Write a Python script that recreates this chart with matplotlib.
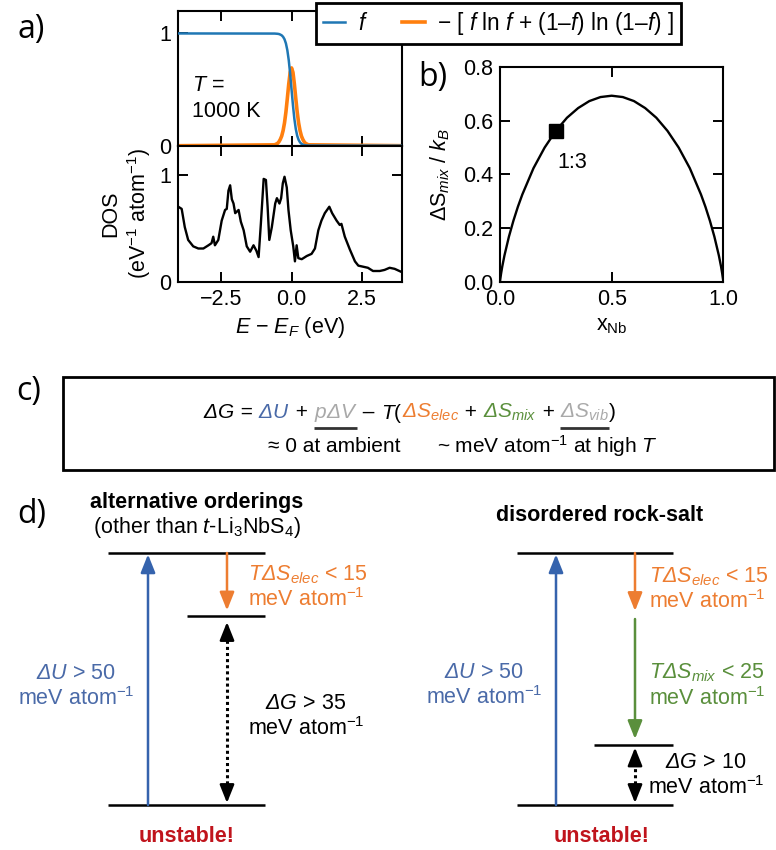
import matplotlib
matplotlib.use("Agg")
import matplotlib.pyplot as plt
import matplotlib.transforms as mtransforms

plt.rcParams["font.family"] = ["Liberation Sans", "DejaVu Sans"]
plt.rcParams["mathtext.fontset"] = "custom"
plt.rcParams["mathtext.rm"] = "Liberation Sans"
plt.rcParams["mathtext.it"] = "Liberation Sans:italic"
# mathtext keeps capital Greek upright in \mathit, so italic Greek goes through \mathsf
plt.rcParams["mathtext.sf"] = "Liberation Sans:italic"
plt.rcParams["mathtext.bf"] = "Liberation Sans:bold"

# ---- data ----
# a) Fermi occupation and electronic entropy at T = 1000 K
fermi_energy = [-4.0, -0.6, -0.5, -0.45, -0.4, -0.35, -0.3, -0.25, -0.2, -0.15, -0.1, -0.05,
                0.0, 0.05, 0.1, 0.15, 0.2, 0.25, 0.3, 0.35, 0.4, 0.45, 0.5, 0.6, 4.0]
fermi_f = [1.0, 0.999, 0.997, 0.995, 0.990, 0.983, 0.970, 0.948, 0.911, 0.851, 0.762, 0.641,
           0.5, 0.359, 0.238, 0.149, 0.089, 0.052, 0.030, 0.017, 0.010, 0.005, 0.003, 0.001, 0.0]
fermi_s = [0.0, 0.008, 0.020, 0.034, 0.056, 0.086, 0.135, 0.204, 0.300, 0.421, 0.549, 0.653,
           0.693, 0.653, 0.549, 0.421, 0.300, 0.204, 0.135, 0.086, 0.056, 0.034, 0.020, 0.008, 0.0]

# a) density of states
dos_energy = [-4.02, -3.90, -3.79, -3.67, -3.49, -3.31, -3.13, -2.95, -2.84, -2.78, -2.72, -2.60,
              -2.48, -2.36, -2.30, -2.24, -2.18, -2.12, -2.06, -2.00, -1.88, -1.80, -1.70, -1.59,
              -1.47, -1.35, -1.25, -1.17, -1.09, -0.99, -0.91, -0.85, -0.79, -0.70, -0.58, -0.52,
              -0.43, -0.37, -0.31, -0.25, -0.17, -0.11, -0.03, 0.06, 0.12, 0.18, 0.24, 0.36,
              0.54, 0.71, 0.83, 0.95, 1.06, 1.18, 1.34, 1.44, 1.60, 1.71, 1.77, 1.89, 2.07,
              2.25, 2.37, 2.54, 2.71, 2.89, 3.13, 3.30, 3.48, 3.66, 3.91]
dos_values = [0.70, 0.68, 0.51, 0.39, 0.33, 0.31, 0.31, 0.34, 0.36, 0.42, 0.34, 0.39,
              0.57, 0.67, 0.68, 0.85, 0.90, 0.77, 0.73, 0.64, 0.67, 0.56, 0.48, 0.33,
              0.28, 0.34, 0.29, 0.23, 0.54, 0.96, 0.95, 0.70, 0.39, 0.51, 0.73, 0.78,
              0.73, 0.78, 0.92, 0.98, 0.88, 0.67, 0.48, 0.33, 0.19, 0.34, 0.22, 0.21,
              0.24, 0.26, 0.31, 0.48, 0.57, 0.64, 0.70, 0.64, 0.57, 0.53, 0.54, 0.42, 0.30,
              0.19, 0.15, 0.14, 0.13, 0.10, 0.10, 0.11, 0.13, 0.12, 0.09]

# b) ideal mixing entropy
x_nb = [0.0, 0.001, 0.005, 0.01, 0.02, 0.04, 0.06, 0.08, 0.1, 0.15, 0.2, 0.25, 0.3, 0.35, 0.4,
        0.45, 0.5, 0.55, 0.6, 0.65, 0.7, 0.75, 0.8, 0.85, 0.9, 0.92, 0.94, 0.96, 0.98, 0.99,
        0.995, 0.999, 1.0]
s_mix = [0.0, 0.008, 0.031, 0.056, 0.098, 0.168, 0.227, 0.279, 0.325, 0.423, 0.500, 0.562,
         0.611, 0.647, 0.673, 0.688, 0.693, 0.688, 0.673, 0.647, 0.611, 0.562, 0.500, 0.423,
         0.325, 0.279, 0.227, 0.168, 0.098, 0.056, 0.031, 0.008, 0.0]
ordering_x = [0.25]
ordering_s = [0.562]

# d) energy levels (meV/atom) as drawn
left_levels = [50.0, 37.5, 0.0]
right_levels = [50.0, 12.0, 0.0]
right_split = 38.5   # where the T dS_elec arrow ends and T dS_mix starts

BLUE = "#3563ad"
BLUE_T = "#4a6aa8"
ORANGE = "#ed7d31"
GREEN = "#5a8f3c"
GREY = "#a9a9a9"
RED = "#c0141c"
FS = 15.5

W, H = 776, 850
fig = plt.figure(figsize=(W / 100, H / 100), dpi=100)


def px_axes(x0, y0, x1, y1, **kw):
    return fig.add_axes([x0 / W, 1 - y1 / H, (x1 - x0) / W, (y1 - y0) / H], **kw)


def style_axes(ax):
    for sp in ax.spines.values():
        sp.set_linewidth(1.5)
    ax.tick_params(direction="in", top=True, right=True, length=7, width=1.4,
                   labelsize=FS, pad=5)


# ---- panel a ----
ax_f = px_axes(178.3, 11, 402, 145.7)
ax_dos = px_axes(178.3, 145.7, 402, 281.7)
l_f, = ax_f.plot(fermi_energy, fermi_f, color="tab:blue", lw=1.8, zorder=3)
l_s, = ax_f.plot(fermi_energy, fermi_s, color="tab:orange", lw=2.6, zorder=2)
ax_f.text(-3.53, 0.42, "$\\mathit{T}$ =\n1000 K", fontsize=FS, ha="left", va="center",
          linespacing=1.3)
for ax in (ax_f, ax_dos):
    ax.set_xlim(-4.02, 3.92)
    ax.set_xticks([-2.5, 0.0, 2.5])
    style_axes(ax)
ax_f.set_ylim(0, 1.2)
ax_f.set_yticks([0, 1])
ax_f.tick_params(labelbottom=False)

ax_dos.plot(dos_energy, dos_values, color="black", lw=1.7)
ax_dos.set_ylim(0, 1.27)
ax_dos.set_yticks([0, 1])
ax_dos.set_xlabel("$\\mathit{E}$ − $\\mathit{E}_{\\mathit{F}}$ (eV)", fontsize=FS, labelpad=4)
ax_dos.set_ylabel("DOS\n(eV$^{-1}$ atom$^{-1}$)", fontsize=FS, linespacing=1.15)
ax_dos.yaxis.set_label_coords(-0.115, 0.5)

leg = fig.legend([l_f, l_s],
                 ["$\\mathit{f}$",
                  "− [ $\\mathit{f}$ ln $\\mathit{f}$ + (1–$\\mathit{f}$) ln (1–$\\mathit{f}$) ]"],
                 loc="upper left", bbox_to_anchor=(316 / W, 1 - 3 / H), borderaxespad=0,
                 ncol=2, fontsize=16.3, handlelength=1.0, handletextpad=0.55,
                 columnspacing=1.5, fancybox=False, framealpha=1, edgecolor="black",
                 borderpad=0.3)
leg.get_frame().set_linewidth(2)

# ---- panel b ----
ax_b = px_axes(500, 67, 723.3, 281.7)
ax_b.plot(x_nb, s_mix, color="black", lw=1.7)
ax_b.plot(ordering_x, ordering_s, marker="s", color="black", markersize=10, ls="none")
ax_b.text(0.325, 0.446, "1:3", fontsize=FS, ha="center", va="center")
ax_b.set_xlim(0, 1)
ax_b.set_ylim(0, 0.8)
ax_b.set_xticks([0, 0.5, 1.0])
ax_b.set_yticks([0, 0.2, 0.4, 0.6, 0.8])
style_axes(ax_b)
ax_b.set_xlabel("x$_{\\mathrm{Nb}}$", fontsize=FS, labelpad=4)
ax_b.set_ylabel("ΔS$_{\\mathit{mix}}$ / $\\mathit{k}_{\\mathit{B}}$", fontsize=FS)
ax_b.yaxis.set_label_coords(-0.215, 0.5)

# ---- overlay in pixel units for panel letters and panel c ----
ax_all = fig.add_axes([0, 0, 1, 1])
ax_all.set_xlim(0, W)
ax_all.set_ylim(H, 0)
ax_all.axis("off")

for lab, (lx, ly) in {"a)": (31, 29), "b)": (433, 77), "c)": (29, 391), "d)": (32, 515)}.items():
    ax_all.text(lx, ly, lab, fontsize=23, family="Open Sans", ha="center", va="center")

ax_all.add_patch(plt.Rectangle((63, 377), 711, 93, fill=False, lw=2, ec="black"))

renderer = fig.canvas.get_renderer()
EQ_FS = 15
pieces = [
    ("$\\mathsf{ΔG}$", "black"),
    (" = ", "black"),
    ("$\\mathsf{ΔU}$", BLUE_T),
    (" + ", "black"),
    ("$\\mathsf{pΔV}$", GREY),
    (" – ", "black"),
    ("$\\mathit{T}$(", "black"),
    ("$\\mathsf{ΔS}_{\\mathsf{elec}}$", ORANGE),
    (" + ", "black"),
    ("$\\mathsf{ΔS}_{\\mathsf{mix}}$", GREEN),
    (" + ", "black"),
    ("$\\mathsf{ΔS}_{\\mathsf{vib}}$", GREY),
    (")", "black"),
]
trans = ax_all.transData
boxes = []
for s, c in pieces:
    t = ax_all.text(203, 410, s, color=c, fontsize=EQ_FS, ha="left", va="center_baseline",
                    transform=trans)
    bb = t.get_window_extent(renderer)
    boxes.append(bb)
    trans = mtransforms.offset_copy(t.get_transform(), x=bb.width, units="dots")

inv = ax_all.transData.inverted()
for i in (4, 11):
    x0 = inv.transform((boxes[i].x0, 0))[0]
    x1 = inv.transform((boxes[i].x1, 0))[0]
    ax_all.plot([x0, x1], [427.5, 427.5], color="#333333", lw=2, solid_capstyle="butt")

ax_all.text(334, 446, "≈ 0 at ambient", fontsize=EQ_FS, ha="center", va="center")
ax_all.text(437, 446, "~ meV atom$^{-1}$ at high $\\mathit{T}$", fontsize=EQ_FS, ha="left",
            va="center")

# ---- panel d (y in meV / atom) ----
ax_d = px_axes(0, 470, W, H)
ax_d.set_xlim(0, W)
ax_d.set_ylim(-8.93, 66.47)
ax_d.axis("off")

HEAD = "-|>,head_length=0.55,head_width=0.22"


def arrow(x, y0, y1, color, sB=0):
    ax_d.annotate("", xy=(x, y1), xytext=(x, y0),
                  arrowprops=dict(arrowstyle=HEAD, color=color, lw=1.8, shrinkA=0,
                                  shrinkB=sB, mutation_scale=20))


def dotted_double(x, top, bottom):
    ax_d.plot([x, x], [bottom + 2.5, top - 2.5], color="black", lw=2.2, ls=(0, (1, 1)))
    arrow(x, top - 3.0, top, "black")
    arrow(x, bottom + 3.0, bottom, "black")


# left: alternative orderings
ax_d.hlines([left_levels[0], left_levels[2]], 108, 265, color="black", lw=1.8)
ax_d.hlines(left_levels[1], 187, 265, color="black", lw=1.8)
arrow(148, left_levels[2], left_levels[0], BLUE, sB=1)
arrow(227, left_levels[0], left_levels[1], ORANGE, sB=4)
dotted_double(227, left_levels[1] - 1.2, left_levels[2] + 0.4)

# right: disordered rock-salt
ax_d.hlines([right_levels[0], right_levels[2]], 517, 673, color="black", lw=1.8)
ax_d.hlines(right_levels[1], 594, 673, color="black", lw=1.8)
arrow(556, right_levels[2], right_levels[0], BLUE, sB=1)
arrow(635, right_levels[0], right_split, ORANGE)
arrow(635, right_split - 1.6, right_levels[1], GREEN, sB=4)
dotted_double(635, right_levels[1] - 0.6, right_levels[2] + 0.4)

ax_d.text(197, 60.1, "alternative orderings", fontsize=FS, weight="bold", ha="center",
          va="center")
ax_d.text(197, 55.0, "(other than $\\mathit{t}$-Li$_3$NbS$_4$)", fontsize=FS, ha="center",
          va="center")
ax_d.text(600, 57.5, "disordered rock-salt", fontsize=FS, weight="bold", ha="center",
          va="center")
for ux in (187, 602):
    ax_d.text(ux, -6.35, "unstable!", fontsize=FS, weight="bold", color=RED, ha="center",
              va="center")

MEV = "meV atom$^{-1}$"
ax_d.text(76, 23.5, "$\\mathsf{ΔU}$ > 50\n" + MEV, fontsize=FS, color=BLUE_T, ha="center",
          va="center", multialignment="center", linespacing=1.15)
ax_d.text(484, 23.7, "$\\mathsf{ΔU}$ > 50\n" + MEV, fontsize=FS, color=BLUE_T, ha="center",
          va="center", multialignment="center", linespacing=1.15)
ax_d.text(248, 43.2, "$\\mathsf{TΔS}_{\\mathsf{elec}}$ < 15\n" + MEV, fontsize=FS,
          color=ORANGE, ha="left", va="center", linespacing=1.15)
ax_d.text(649, 42.8, "$\\mathsf{TΔS}_{\\mathsf{elec}}$ < 15\n" + MEV, fontsize=FS,
          color=ORANGE, ha="left", va="center", linespacing=1.15)
ax_d.text(649, 23.7, "$\\mathsf{TΔS}_{\\mathsf{mix}}$ < 25\n" + MEV, fontsize=FS,
          color=GREEN, ha="left", va="center", linespacing=1.15)
ax_d.text(306, 17.6, "$\\mathsf{ΔG}$ > 35\n" + MEV, fontsize=FS, ha="center", va="center",
          multialignment="center", linespacing=1.15)
ax_d.text(706, 5.85, "$\\mathsf{ΔG}$ > 10\n" + MEV, fontsize=FS, ha="center", va="center",
          multialignment="center", linespacing=1.15)

fig.savefig("out.png", dpi=100)
